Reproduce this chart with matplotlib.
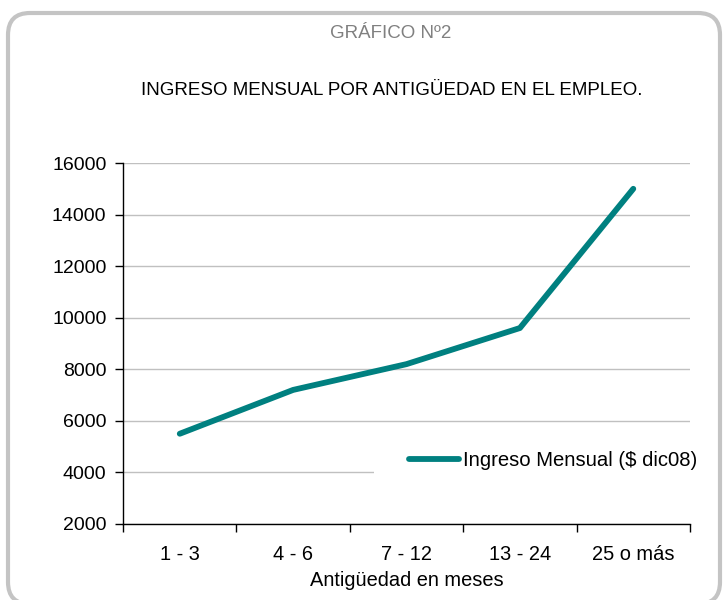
import matplotlib
matplotlib.use("Agg")
import matplotlib.pyplot as plt
from matplotlib.patches import FancyBboxPatch, Rectangle
from matplotlib.transforms import IdentityTransform

categories = ["1 - 3", "4 - 6", "7 - 12", "13 - 24", "25 o más"]
ingreso = [5500, 7200, 8200, 9600, 15000]
yticks = [2000, 4000, 6000, 8000, 10000, 12000, 14000, 16000]

plt.rcParams['font.family'] = ['Liberation Sans', 'DejaVu Sans']

fig = plt.figure(figsize=(7.24, 6.0), dpi=100)
fig.patch.set_facecolor('white')

# rounded border in pixel units
border = FancyBboxPatch((8, -4), 712, 591,
                        boxstyle="round,pad=0,rounding_size=22",
                        transform=IdentityTransform(), facecolor='none', edgecolor='#C4C4C4',
                        linewidth=3, clip_on=False)
fig.patches.append(border)

ax = fig.add_axes([0.170, 0.1267, 0.783, 0.6016])
x = list(range(len(categories)))
ax.plot(x, ingreso, color='#008080', linewidth=4.2, solid_capstyle='round',
        solid_joinstyle='round', label='Ingreso Mensual ($ dic08)', zorder=3)

ax.set_xlim(-0.5, len(categories) - 0.5)
ax.set_ylim(2000, 16000)
ax.set_yticks(yticks)
ax.set_xticks(x)
ax.set_xticklabels(categories)
ax.set_xticks([i + 0.5 for i in range(-1, len(categories))], minor=True)
ax.tick_params(axis='x', which='major', length=0, pad=15, labelsize=14.4)
ax.tick_params(axis='x', which='minor', length=6, width=1, direction='out', color='black')
ax.tick_params(axis='y', length=6, width=1, direction='out', labelsize=14, pad=6)
ax.yaxis.grid(True, color='#C0C0C0', linewidth=1)
ax.set_axisbelow(True)
for s in ['top', 'right']:
    ax.spines[s].set_visible(False)
for s in ['left', 'bottom']:
    ax.spines[s].set_color('black')
    ax.spines[s].set_linewidth(1)

# legend area background (hides part of the gridline, as in the original)
ax.add_patch(Rectangle((0.443, 0.12), 0.6, 0.115, transform=ax.transAxes,
                       facecolor='white', edgecolor='none', zorder=1, clip_on=False))

ax.set_xlabel('Antigüedad en meses', fontsize=14.4, labelpad=5)

leg = ax.legend(loc='center right', bbox_to_anchor=(1.035, 0.176), frameon=True,
                fontsize=14.6, handlelength=2.5, handletextpad=0.2, borderpad=0.6,
                borderaxespad=0, fancybox=False)
leg.get_frame().set_facecolor('white')
leg.get_frame().set_edgecolor('none')
leg.get_frame().set_alpha(1)

fig.text(0.54, 0.944, 'GRÁFICO Nº2', ha='center', va='center', fontsize=13.5, color='#808080')
fig.text(0.541, 0.849, 'INGRESO MENSUAL POR ANTIGÜEDAD EN EL EMPLEO.', ha='center', va='center',
         fontsize=13.5, color='black')

fig.savefig('out.png', dpi=100, facecolor='white')
